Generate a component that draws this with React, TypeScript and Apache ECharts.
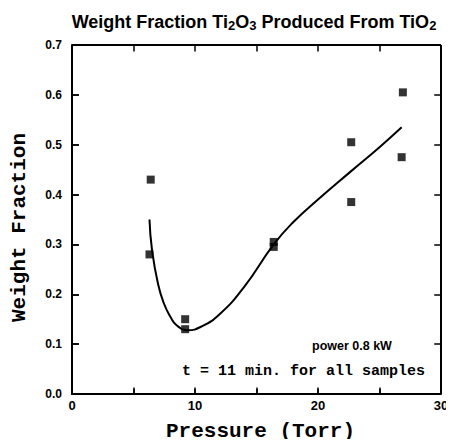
import React, { useEffect, useRef } from "react";
import * as echarts from "echarts";

const pressure = [6.4, 6.3, 9.2, 9.2, 16.4, 16.4, 22.7, 22.7, 26.9, 26.8];
const weightFraction = [0.43, 0.28, 0.15, 0.13, 0.295, 0.305, 0.505, 0.385, 0.605, 0.475];
const fitX = [6.3, 6.5, 7.0, 7.5, 8.0, 8.5, 9.4, 10.5, 12, 14, 16.4, 18, 20, 22.6, 25, 26.8];
const fitY = [0.35, 0.29, 0.22, 0.18, 0.155, 0.138, 0.128, 0.135, 0.16, 0.215, 0.3, 0.345, 0.39, 0.445, 0.495, 0.535];
const xTicks = [0, 10, 20, 30];
const xTickMarks = [5, 10, 15, 20, 25];
const yTicks = [0, 0.1, 0.2, 0.3, 0.4, 0.5, 0.6, 0.7];
const yTickMarks = [0.1, 0.2, 0.3, 0.4, 0.5, 0.6];
const xRange = [0, 30];
const yRange = [0, 0.7];

export default function App() {
  const ref = useRef<HTMLDivElement>(null);
  useEffect(() => {
    const chart = echarts.init(ref.current!, null, { renderer: "svg" });
    const axisLine = () => ({ show: true, onZero: false, lineStyle: { color: "#000", width: 2 } });
    const tick = (len: number) => ({ show: true, inside: true, length: len, lineStyle: { color: "#000", width: 1.5 } });
    const tickStyle = { color: "#000", width: 1.5, type: "solid" };
    const frameStyle = { color: "#000", width: 2, type: "solid" };
    const xLen = 0.55;
    const yLen = 0.013;
    const markData: any[] = [
      { yAxis: yRange[1], lineStyle: frameStyle },
      { xAxis: xRange[1], lineStyle: frameStyle },
    ];
    xTickMarks.forEach((x) => {
      markData.push([{ coord: [x, yRange[1]], lineStyle: tickStyle }, { coord: [x, yRange[1] - yLen] }]);
      markData.push([{ coord: [x, yRange[0]], lineStyle: tickStyle }, { coord: [x, yRange[0] + yLen] }]);
    });
    yTickMarks.forEach((y) => {
      markData.push([{ coord: [xRange[0], y], lineStyle: tickStyle }, { coord: [xRange[0] + xLen, y] }]);
      markData.push([{ coord: [xRange[1], y], lineStyle: tickStyle }, { coord: [xRange[1] - xLen, y] }]);
    });
    chart.setOption({
      animation: false,
      backgroundColor: "#fff",
      title: {
        text: "Weight Fraction Ti{s|2}O{s|3} Produced From TiO{s|2}",
        left: 249,
        top: 6,
        textAlign: "center",
        textStyle: {
          fontFamily: "Liberation Sans",
          fontWeight: "bold",
          fontSize: 18,
          color: "#000",
          rich: {
            s: { fontSize: 13, fontWeight: "bold", fontFamily: "Liberation Sans", verticalAlign: "bottom", padding: [8, 0, 0, 0] },
          },
        },
      },
      grid: { left: 72, right: 13, top: 45, bottom: 51 },
      xAxis: {
        type: "value",
        min: xRange[0],
        max: xRange[1],
        interval: 5,
        name: "Pressure (Torr)",
        nameLocation: "middle",
        nameGap: 27,
        nameTextStyle: { fontFamily: "Liberation Mono", fontWeight: "bold", fontSize: 21, color: "#000", padding: [0, 0, 0, 8] },
        axisLine: axisLine(),
        axisTick: tick(5),
        splitLine: { show: false },
        axisLabel: {
          formatter: (v: number) => (xTicks.includes(v) ? String(v) : ""),
          fontFamily: "Liberation Sans",
          fontWeight: "bold",
          fontSize: 13,
          color: "#000",
          margin: 5,
        },
      },
      yAxis: {
        type: "value",
        min: yRange[0],
        max: yRange[1],
        interval: 0.1,
        name: "Weight Fraction",
        nameLocation: "middle",
        nameGap: 42,
        nameTextStyle: { fontFamily: "Liberation Mono", fontWeight: "bold", fontSize: 21, color: "#000", padding: [0, 16, 0, 0] },
        axisLine: axisLine(),
        axisTick: tick(7),
        splitLine: { show: false },
        axisLabel: {
          formatter: (v: number) => {
            const t = yTicks.find((y) => Math.abs(y - v) < 1e-6);
            return t === undefined ? "" : t.toFixed(1);
          },
          fontFamily: "Liberation Sans",
          fontWeight: "bold",
          fontSize: 12,
          color: "#000",
          margin: 10,
        },
      },
      series: [
        {
          type: "line",
          clip: false,
          data: fitX.map((x, i) => [x, fitY[i]]),
          smooth: true,
          showSymbol: false,
          lineStyle: { color: "#000", width: 2 },
          markLine: {
            silent: true,
            animation: false,
            symbol: ["none", "none"],
            label: { show: false },
            emphasis: { disabled: true },
            data: markData,
          },
        },
        {
          type: "scatter",
          data: pressure.map((x, i) => [x, weightFraction[i]]),
          symbol: "rect",
          symbolSize: 8,
          itemStyle: { color: "#000" },
        },
      ],
      graphic: [
        {
          type: "text",
          left: 312,
          top: 339,
          style: { text: "power 0.8 kW", fontFamily: "Liberation Sans", fontWeight: "bold", fontSize: 12.5, fill: "#000" },
        },
        {
          type: "text",
          left: 182,
          top: 364,
          style: { text: "t = 11 min. for all samples", fontFamily: "Liberation Mono", fontWeight: "bold", fontSize: 15, fill: "#000" },
        },
      ],
    });
    return () => chart.dispose();
  }, []);
  return <div ref={ref} style={{ width: 454, height: 447, margin: -8 }} />;
}
